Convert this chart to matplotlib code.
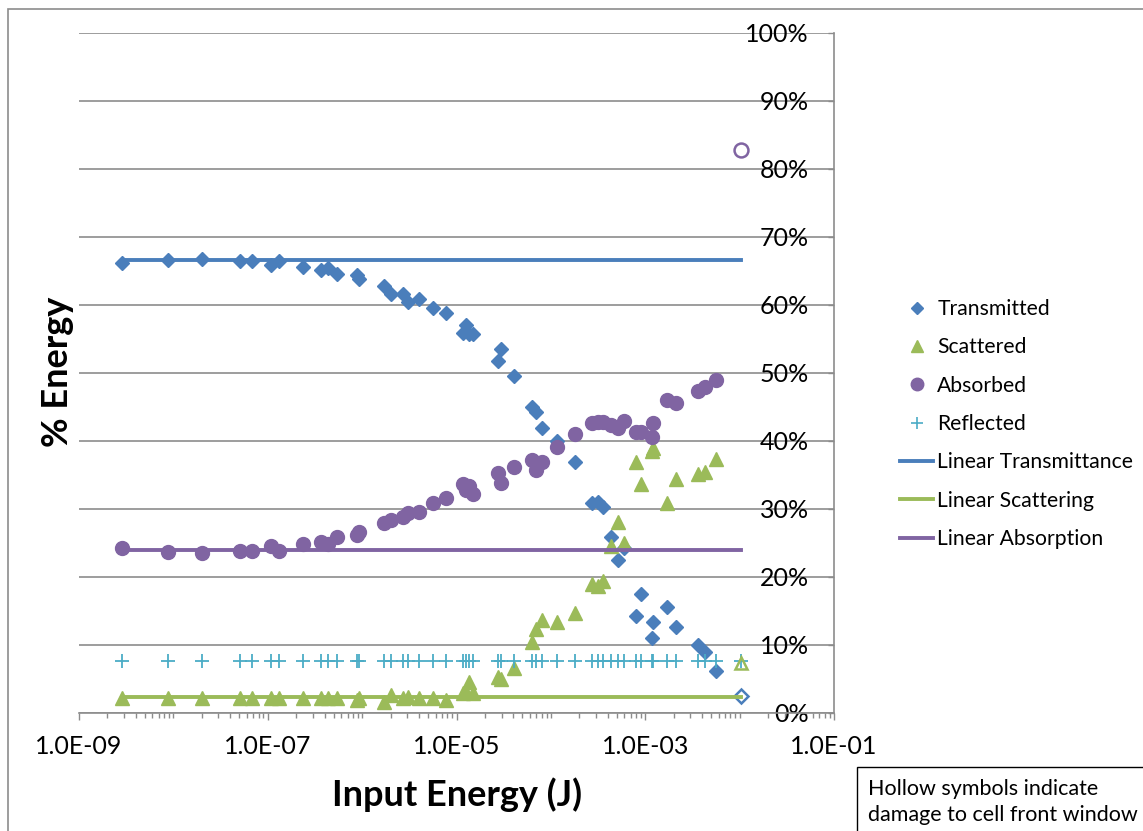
import numpy as np
import matplotlib
matplotlib.use("Agg")
import matplotlib.pyplot as plt
from matplotlib.lines import Line2D
from matplotlib.patches import Rectangle
from matplotlib.ticker import FixedLocator, LogLocator, FuncFormatter, NullFormatter

# ---- data -------------------------------------------------------------
energy = [2.85e-9, 8.7e-9, 2.0e-8, 5.1e-8, 6.8e-8, 1.08e-7, 1.3e-7, 2.35e-7,
          3.7e-7, 4.3e-7, 5.4e-7, 8.75e-7, 9.2e-7, 1.69e-6, 2.0e-6, 2.7e-6,
          3.1e-6, 4.05e-6, 5.6e-6, 7.65e-6, 1.16e-5, 1.25e-5, 1.37e-5, 1.51e-5,
          2.78e-5, 2.99e-5, 4.11e-5, 6.37e-5, 7.03e-5, 8.13e-5, 1.17e-4, 1.82e-4,
          2.75e-4, 3.18e-4, 3.6e-4, 4.37e-4, 5.18e-4, 6.0e-4, 8.03e-4, 9.08e-4,
          1.19e-3, 1.22e-3, 1.71e-3, 2.13e-3, 3.64e-3, 4.32e-3, 5.64e-3, 1.04e-2]

transmitted = [66.2, 66.6, 66.8, 66.5, 66.5, 65.9, 66.5, 65.6,
               65.1, 65.5, 64.6, 64.4, 63.8, 62.8, 61.6, 61.6,
               60.4, 60.9, 59.6, 58.8, 55.9, 57.1, 55.7, 55.8,
               51.8, 53.5, 49.6, 45.0, 44.3, 41.9, 40.0, 36.9,
               30.9, 31.0, 30.3, 25.9, 22.5, 24.3, 14.3, 17.5,
               11.0, 13.4, 15.6, 12.6, 10.0, 9.0, 6.2, 2.5]

scattered = [2.2, 2.2, 2.2, 2.2, 2.2, 2.2, 2.2, 2.2,
             2.2, 2.2, 2.2, 1.9, 2.2, 1.6, 2.6, 2.2,
             2.4, 2.2, 2.2, 1.9, 2.9, 3.1, 4.6, 3.0,
             5.3, 5.0, 6.6, 10.4, 12.4, 13.7, 13.4, 14.7,
             19.0, 18.7, 19.4, 24.6, 28.1, 25.0, 36.9, 33.7,
             38.5, 39.0, 30.9, 34.4, 35.1, 35.4, 37.4, 7.3]

absorbed = [24.3, 23.7, 23.6, 23.8, 23.8, 24.6, 23.8, 24.9,
            25.1, 24.9, 25.9, 26.2, 26.6, 27.9, 28.4, 28.8,
            29.4, 29.6, 30.9, 31.6, 33.7, 32.8, 33.4, 32.2,
            35.3, 33.8, 36.2, 37.2, 35.7, 36.9, 39.1, 41.0,
            42.6, 42.8, 42.8, 42.4, 41.9, 42.9, 41.3, 41.3,
            40.6, 42.6, 46.0, 45.6, 47.4, 47.9, 49.0, 82.8]

reflected = [7.6] * 48

# shots where the cell front window was damaged (drawn hollow)
damaged = [False] * 47 + [True]

linear_transmittance = 66.6
linear_scattering = 2.3
linear_absorption = 24.0

series_names = ["Transmitted", "Scattered", "Absorbed", "Reflected",
                "Linear Transmittance", "Linear Scattering", "Linear Absorption"]
x_tick_values = [1e-9, 1e-7, 1e-5, 1e-3, 1e-1]
y_tick_values = list(range(0, 101, 10))

# ---- style ------------------------------------------------------------
C_T = "#4A7EBB"
C_S = "#9BBB59"
C_A = "#8064A2"
C_R = "#4BACC6"
GRID = "#8C8C8C"
FONT = "Lato"
plt.rcParams["font.family"] = [FONT, "DejaVu Sans"]

W, H = 1143, 831
fig = plt.figure(figsize=(W / 100, H / 100), dpi=100)
ax = fig.add_axes([79 / W, (831 - 713) / H, (834 - 79) / W, (713 - 33) / H])

e = np.array(energy)
mask = np.array(damaged)
ok = ~mask

def pts(vals):
    return np.array(vals, dtype=float)

T, S, A, R = pts(transmitted), pts(scattered), pts(absorbed), pts(reflected)

ax.plot(e[ok], T[ok], ls="none", marker="D", ms=7, color=C_T, mec=C_T, zorder=3)
ax.plot(e[ok], S[ok], ls="none", marker="^", ms=10, color=C_S, mec=C_S, zorder=3)
ax.plot(e[ok], A[ok], ls="none", marker="o", ms=10, color=C_A, mec=C_A, zorder=3)
ax.plot(e, R, ls="none", marker="+", ms=10, mew=1.3, color=C_R, zorder=3)

# hollow symbols
ax.plot(e[mask], T[mask], ls="none", marker="D", ms=7, mfc="none", mec=C_T, mew=1.8, zorder=3)
ax.plot(e[mask], S[mask], ls="none", marker="^", ms=9, mfc="none", mec=C_S, mew=1.8, zorder=3)
ax.plot(e[mask], A[mask], ls="none", marker="o", ms=10, mfc="none", mec=C_A, mew=1.8, zorder=3)

# low-energy (linear) levels
LW = 2.8
ax.plot(e, np.full(e.shape, linear_transmittance), color=C_T, lw=LW, zorder=4)
ax.plot(e, np.full(e.shape, linear_scattering), color=C_S, lw=LW, zorder=4)
ax.plot(e, np.full(e.shape, linear_absorption), color=C_A, lw=LW, zorder=4)

# ---- axes -------------------------------------------------------------
ax.set_xscale("log")
ax.set_xlim(1e-9, 1e-1)
ax.set_ylim(0, 100)

ax.xaxis.set_major_locator(FixedLocator(x_tick_values))
ax.xaxis.set_minor_locator(LogLocator(base=10, subs=np.arange(1, 10), numticks=100))
ax.xaxis.set_major_formatter(FuncFormatter(lambda v, p: f"{v:.1E}"))
ax.xaxis.set_minor_formatter(NullFormatter())
ax.tick_params(axis="x", which="major", direction="out", length=5, width=1,
               color=GRID, pad=10.5, labelsize=18)
ax.tick_params(axis="x", which="minor", direction="out", length=3.5, width=1, color=GRID)

ax.set_yticks(y_tick_values)
ax.yaxis.set_major_formatter(FuncFormatter(lambda v, p: f"{v:.0f}%"))
ax.yaxis.set_ticks_position("right")
ax.tick_params(axis="y", which="major", direction="in", length=4.5, width=1,
               color=GRID, pad=-18, labelsize=18, labelright=True, labelleft=False)
for t in ax.yaxis.get_major_ticks():
    t.label2.set_horizontalalignment("right")

ax.grid(axis="y", color=GRID, lw=1.2, zorder=0)
ax.set_axisbelow(True)
for side in ("left", "top"):
    ax.spines[side].set_visible(False)
for side in ("right", "bottom"):
    ax.spines[side].set_color(GRID)
    ax.spines[side].set_linewidth(1.2)

ax.set_xlabel("Input Energy (J)", fontsize=26, fontweight="bold")
ax.xaxis.set_label_coords((457 - 79) / 755, (713 - 795) / 680)
ax.xaxis.label.set_va("center")
ax.set_ylabel("% Energy", fontsize=26, fontweight="bold")
ax.yaxis.set_label_position("left")
ax.yaxis.set_label_coords((57 - 79) / 755, (713 - 372) / 680)
ax.yaxis.label.set_va("center")

# ---- legend -----------------------------------------------------------
handles = [
    Line2D([], [], ls="none", marker="D", ms=6.5, color=C_T),
    Line2D([], [], ls="none", marker="^", ms=9, color=C_S),
    Line2D([], [], ls="none", marker="o", ms=9, color=C_A),
    Line2D([], [], ls="none", marker="+", ms=9, mew=1.2, color=C_R),
    Line2D([], [], color=C_T, lw=LW),
    Line2D([], [], color=C_S, lw=LW),
    Line2D([], [], color=C_A, lw=LW),
]
LEG_FS = 15.2
ax.legend(handles, series_names, loc="upper left",
          bbox_to_anchor=(900 / W, 1 - 299 / H), bbox_transform=fig.transFigure,
          frameon=False, borderpad=0, borderaxespad=0,
          handlelength=33 / (LEG_FS * 100 / 72), handletextpad=0.2,
          labelspacing=0.87, fontsize=LEG_FS)

# ---- note box and outer frame -----------------------------------------
fig.patches.append(Rectangle((857 / W, -0.05), 0.3, (831 - 767) / H + 0.05,
                             transform=fig.transFigure, fill=True, fc="white",
                             ec="black", lw=1.0))
fig.text(868 / W, 1 - 802 / H, "Hollow symbols indicate\ndamage to cell front window",
         ha="left", va="center", fontsize=15.5, linespacing=1.42)
fig.patches.append(Rectangle((8 / W, -0.05), 1.2, 1 - 9 / H + 0.05,
                             transform=fig.transFigure, fill=False,
                             ec=GRID, lw=1.2))

fig.savefig("out.png", dpi=100)
